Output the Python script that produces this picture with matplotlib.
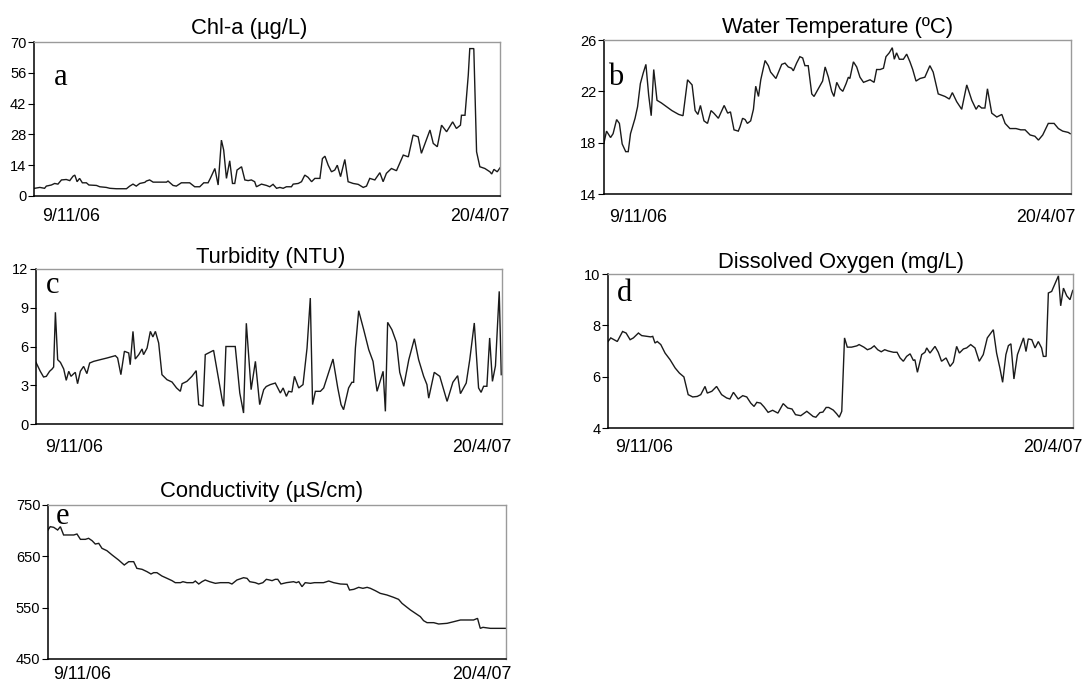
import matplotlib
matplotlib.use("Agg")
import matplotlib.pyplot as plt
from matplotlib import font_manager

# ---------------------------------------------------------------- data
# sampling day (days since start of record) and measured value

chla_day = [0.3, 2.3, 4.2, 4.9, 6.9, 8.2, 9.5, 10.9, 12.8, 14.2, 15.5, 16.2, 17.1, 18.1,
            19.2, 20.8, 21.8, 24.8, 26.1, 28.7, 30.1, 32.7, 36.7, 38.0, 39.3, 40.6, 42.0,
            44.0, 44.6, 45.9, 47.3, 48.6, 52.6, 53.2, 55.2, 56.5, 58.5, 61.8, 63.8, 65.8,
            67.4, 69.1, 70.0, 71.8, 73.1, 74.4, 75.3, 76.4, 77.7, 78.8, 79.7, 80.6, 82.4,
            83.7, 85.0, 86.3, 87.6, 88.3, 90.3, 92.3, 93.6, 94.9, 96.3, 97.6, 98.9, 100.2,
            102.2, 102.9, 104.9, 106.2, 107.5, 108.8, 110.2, 111.5, 113.5, 114.5, 115.5,
            116.8, 118.1, 119.4, 120.4, 121.7, 123.4, 124.7, 126.7, 128.7, 130.7, 132.0,
            133.3, 135.3, 137.3, 138.6, 139.9, 141.9, 143.9, 146.6, 148.6, 150.5, 152.5,
            153.8, 157.2, 158.5, 160.1, 161.8, 163.8, 166.2, 167.7, 169.3, 169.7, 171.1,
            172.4, 173.0, 174.6, 175.7, 177.0, 179.0, 181.0, 181.7, 182.6, 183.9, 185.0]
chla = [3.5, 3.9, 3.5, 4.5, 5.0, 5.7, 5.4, 7.3, 7.5, 7.0, 9.0, 9.5, 6.5, 8.0,
        6.0, 6.0, 5.0, 4.8, 4.2, 3.9, 3.5, 3.3, 3.3, 4.5, 5.4, 4.5, 5.7,
        6.2, 6.8, 7.3, 6.3, 6.3, 6.3, 6.8, 4.8, 4.5, 6.0, 6.0, 4.2, 4.2,
        6.0, 6.0, 8.0, 12.5, 5.0, 25.4, 20.9, 8.0, 16.0, 5.7, 5.7, 11.8, 13.3,
        7.3, 7.0, 7.3, 6.5, 4.2, 5.4, 4.8, 4.2, 5.3, 3.5, 3.9, 3.5, 4.2,
        4.2, 5.4, 5.7, 6.5, 9.5, 8.5, 6.5, 8.0, 8.0, 17.0, 18.1,
        14.0, 11.0, 11.8, 14.0, 8.8, 16.6, 6.5, 5.7, 5.3, 3.9, 4.5,
        8.0, 7.3, 10.6, 6.5, 10.3, 12.5, 11.5, 18.6, 17.8, 27.7, 26.9,
        19.4, 30.0, 23.9, 22.4, 32.2, 29.2, 33.7, 30.7, 32.2, 36.7, 36.7,
        54.9, 67.0, 67.0, 20.1, 13.3, 12.5, 11.0, 10.0, 12.1, 11.0, 12.8]

temp_day = [0.0, 1.0, 2.6, 3.6, 5.0, 6.1, 7.2, 8.6, 9.6, 10.5, 12.3, 13.3, 14.4, 15.5,
            16.6, 17.7, 18.7, 19.7, 21.0, 22.7, 24.8, 26.9, 29.6, 31.3, 33.1, 34.9, 36.1,
            37.2, 38.2, 39.6, 41.0, 42.4, 43.5, 45.3, 47.6, 49.0, 50.1, 51.5, 53.2,
            53.9, 54.9, 55.9, 56.8, 58.1, 59.2, 60.1, 61.2, 62.1, 63.8, 65.1, 66.0, 68.1,
            70.4, 71.7, 73.0, 74.3, 75.0, 76.3, 77.6, 78.7, 79.6, 80.9, 82.3, 83.2, 84.9,
            86.6, 87.6, 88.9, 90.2, 91.1, 92.2, 93.5, 94.6, 95.9, 96.8, 97.4, 98.8, 100.1,
            101.4, 102.8, 104.1, 105.4, 107.0, 108.0, 109.4, 110.7, 111.7, 113.0, 114.2,
            115.0, 115.9, 117.0, 118.6, 119.9, 121.2, 122.3, 123.6, 125.2, 127.1, 129.1,
            130.4, 132.4,
            133.8, 135.1, 136.8, 138.0, 139.7, 141.7, 143.7, 145.7, 147.4, 148.4, 149.6,
            150.9, 151.9, 153.6, 155.6, 157.6, 158.9, 160.8, 163.2, 165.1, 166.8, 168.8,
            170.7, 172.1, 173.8, 176.0, 178.3, 180.0, 181.7, 183.9, 184.7]
temp = [18.0, 18.9, 18.4, 18.7, 19.8, 19.5, 17.9, 17.3, 17.3, 18.7, 19.9, 20.8, 22.6, 23.4,
        24.1, 21.7, 20.1, 23.7, 21.3, 21.1, 20.8, 20.5, 20.2, 20.1, 22.9, 22.5, 20.5,
        20.2, 20.9, 19.7, 19.5, 20.5, 20.3, 19.9, 20.9, 20.3, 20.4, 19.0, 18.9,
        19.25, 19.9, 19.8, 19.5, 19.7, 20.6, 22.4, 21.6, 22.9, 24.4, 24.0, 23.5, 23.0,
        24.1, 24.2, 23.9, 23.8, 23.6, 24.2, 24.7, 24.6, 24.0, 24.0, 21.8, 21.6, 22.2,
        22.8, 23.9, 23.1, 22.0, 21.6, 22.7, 22.2, 22.0, 22.6, 23.1, 23.0, 24.3, 23.9,
        23.1, 22.7, 22.8, 22.9, 22.7, 23.7, 23.7, 23.8, 24.7, 25.0, 25.4,
        24.5, 25.0, 24.5, 24.5, 24.9, 24.3, 23.7, 22.8, 23.0, 23.1, 24.0,
        23.5, 21.8,
        21.7, 21.6, 21.4, 21.9, 21.2, 20.6, 22.5, 21.3, 20.6, 20.9, 20.7,
        20.7, 22.2, 20.3, 20.0, 20.2, 19.5, 19.1, 19.1, 19.0, 19.0, 18.6,
        18.5, 18.2, 18.6, 19.5, 19.5, 19.1, 18.9, 18.8, 18.7]

turb_day = [0.0, 1.7, 3.0, 4.1, 5.4, 6.4, 7.0, 7.7, 8.6, 9.7, 11.0, 12.0, 13.0, 13.9, 15.0,
            15.6, 16.5, 17.6, 18.9, 20.2, 21.3, 22.9, 25.5, 28.2, 31.5, 32.4, 33.7, 35.1,
            36.8, 37.4, 38.5, 39.4, 40.8, 42.1, 42.7, 44.1, 45.4, 46.4, 47.4, 48.7, 50.0,
            52.0, 54.0, 55.8, 57.3, 58.0, 59.9, 61.9, 63.6, 64.6, 66.3, 67.2, 70.5, 73.8,
            74.5, 75.4, 79.1, 80.9, 82.4, 83.5, 85.4, 87.1, 88.8, 90.4, 91.4, 93.0, 95.0,
            97.0, 98.1, 99.4, 100.3, 101.6, 102.6, 104.3, 106.0, 107.6, 108.9, 109.8, 110.9,
            112.9, 114.2, 117.9, 119.8, 121.1, 122.1, 124.1, 125.4, 126.1, 126.8, 128.1,
            130.1, 132.1, 133.8, 135.4, 137.8, 138.7, 139.6, 141.3, 143.1, 144.4, 146.0,
            148.0, 150.2, 151.9, 153.9, 155.2, 155.9, 158.1, 160.3, 163.2, 165.5, 167.4,
            168.5, 170.8, 172.2, 174.0, 175.7, 176.7, 177.7, 179.0, 180.1, 181.2, 182.4,
            183.9, 184.7]
turb = [4.77, 4.08, 3.64, 3.69, 4.08, 4.26, 4.41, 8.65, 4.98, 4.77, 4.26, 3.38, 4.08, 3.69,
        3.90, 4.00, 3.12, 4.08, 4.46, 3.90, 4.72, 4.85, 4.98, 5.11, 5.29, 5.11, 3.82, 5.63,
        5.50, 4.59, 7.17, 5.03, 5.37, 5.81, 5.37, 5.88, 7.17, 6.74, 7.17, 6.27, 3.82,
        3.43, 3.25, 2.79, 2.53, 3.12, 3.30, 3.69, 4.13, 1.50, 1.37, 5.37, 5.70, 2.00,
        1.37, 6.00, 6.00, 2.40, 0.85, 7.80, 2.66, 4.85, 1.50, 2.66, 2.90, 3.05, 3.17,
        2.40, 2.79, 2.14, 2.53, 2.48, 3.69, 2.79, 3.05, 5.88, 9.75, 1.50, 2.53,
        2.53, 2.79, 5.03, 2.79, 1.50, 1.11, 2.79, 3.23, 3.23, 5.88, 8.77,
        7.30, 5.75, 4.85, 2.53, 4.08, 0.98, 7.87, 7.30, 6.32, 4.00, 2.92,
        4.98, 6.60, 4.98, 3.69, 3.05, 2.00, 4.00, 3.69, 1.75, 3.23, 3.74,
        2.35, 3.17, 4.98, 7.82, 2.79, 2.45, 2.92, 2.92, 6.66, 3.30, 4.50,
        10.27, 3.82]

do_day = [0.0, 1.1, 2.4, 3.7, 5.8, 7.2, 8.8, 10.1, 12.1, 13.4, 15.4, 17.0, 17.8, 18.7, 19.6,
          21.0, 22.7, 24.7, 26.7, 28.4, 30.2, 31.9, 33.7, 35.5, 36.9, 38.6, 39.5, 41.3,
          43.2, 45.2, 47.2, 48.5, 49.9, 51.8, 53.6, 55.2, 56.8, 58.1, 59.2, 60.7, 62.1,
          63.7, 65.5, 67.6, 69.7, 71.5, 73.2, 74.6, 76.7, 79.1, 80.2, 81.6, 82.7, 84.3,
          85.5, 86.8, 87.8, 89.6, 91.0, 92.0, 93.0, 94.1, 95.2, 96.9, 99.0, 99.9, 101.8,
          103.2, 104.6, 105.9, 107.3, 108.7, 110.1, 111.5, 113.6, 115.0,
          116.2, 117.5, 118.8, 120.2, 121.5, 122.1, 123.1, 124.8, 126.1, 126.8, 128.1,
          130.1, 131.4, 132.7, 134.5, 136.1, 137.4, 138.7, 139.8, 141.4, 142.7, 144.3,
          146.0, 147.7, 149.3, 150.9, 153.3, 154.6, 155.9, 157.0, 158.3, 159.3, 160.3,
          161.5, 162.9, 164.2, 165.3, 166.3, 167.2, 168.6, 169.9, 171.2, 172.5, 173.2,
          174.3, 175.2, 176.5, 179.2, 180.1, 181.2, 182.5, 183.8, 184.9]
do_mgl = [7.37, 7.51, 7.44, 7.37, 7.76, 7.70, 7.44, 7.51, 7.70, 7.60, 7.57, 7.55, 7.57, 7.31, 7.37,
          7.25, 6.92, 6.66, 6.34, 6.14, 5.99, 5.30, 5.21, 5.23, 5.30, 5.62, 5.36, 5.43,
          5.62, 5.30, 5.17, 5.13, 5.39, 5.13, 5.26, 5.21, 4.97, 4.84, 5.00, 4.97, 4.82,
          4.61, 4.69, 4.58, 4.95, 4.78, 4.74, 4.52, 4.48, 4.65, 4.56, 4.45, 4.42, 4.60,
          4.62, 4.80, 4.80, 4.70, 4.55, 4.42, 4.65, 7.51, 7.15, 7.15, 7.20, 7.25, 7.15,
          7.05, 7.10, 7.20, 7.05, 6.97, 7.05, 7.00, 6.95, 6.95,
          6.73, 6.60, 6.79, 6.89, 6.63, 6.66, 6.17, 6.86, 6.95, 7.12, 6.92,
          7.18, 6.95, 6.60, 6.73, 6.40, 6.56, 7.18, 6.92, 7.08, 7.12, 7.25,
          7.12, 6.60, 6.86, 7.51, 7.83, 6.92, 6.34, 5.78, 6.86, 7.21, 7.28,
          5.91, 6.86, 7.21, 7.51, 6.98, 7.47, 7.44, 7.12, 7.37, 7.12, 6.79,
          6.79, 9.26, 9.32, 9.93, 8.76, 9.45, 9.15, 9.00, 9.36]

cond_day = [0.0, 0.9, 2.3, 3.9, 5.0, 6.3, 8.3, 10.4, 11.7, 13.1, 15.1, 16.4, 17.8, 19.1, 20.5,
            21.8, 23.8, 25.9, 28.5, 30.8, 32.6, 34.6, 35.9, 38.0, 40.0, 41.6, 42.7, 44.0,
            46.0, 48.1, 50.1, 51.4, 53.5, 54.5, 56.1, 58.6, 59.5, 60.9, 62.2, 63.5, 65.3,
            67.6, 69.6, 73.0, 74.3, 76.3, 79.0, 80.4, 81.5, 83.7, 85.1, 86.8, 88.2, 89.5,
            90.5, 91.8, 92.8, 94.1, 96.3, 99.2, 100.3, 101.3, 102.6, 103.9, 106.0, 107.6,
            109.3, 111.3, 113.4, 115.4, 118.1, 120.8, 121.8, 123.5, 125.5, 127.2, 128.9,
            130.2, 132.2, 134.2, 136.9, 139.6, 141.6, 143.0, 144.7, 146.4, 148.4, 150.4,
            151.7, 153.1, 155.8, 157.8, 161.2, 163.9, 166.6, 169.2, 171.9, 173.5, 174.6,
            175.7, 178.7, 185.0]
cond = [701.3, 707.8, 706.5, 701.3, 707.8, 691.6, 691.6, 691.6, 693.5, 683.1, 683.1, 685.1,
        680.5, 674.0, 675.3, 665.6, 661.0, 652.6, 642.9, 633.1, 639.6, 639.6, 626.6, 624.7,
        620.1, 615.6, 618.2, 618.2, 611.7, 607.1, 602.6, 598.7, 598.7, 600.6, 598.7, 598.7,
        601.9, 596.1, 600.6, 603.9, 600.6, 597.4, 598.7, 598.7, 596.1, 603.9, 608.4, 607.1,
        600.6, 598.7, 596.1, 598.7, 605.2, 603.9, 602.6, 605.2, 605.2, 596.1, 598.7, 600.6,
        598.7, 600.6, 590.9, 598.7, 597.4, 598.7, 598.7, 598.7, 601.9, 598.7, 596.1, 595.5,
        584.4, 585.7, 589.6, 587.7, 589.6, 587.7, 583.1, 577.9, 574.7, 570.1, 566.2, 558.4,
        551.9, 545.5, 539.0, 532.5, 524.7, 520.8, 520.8, 518.2, 519.5, 522.7, 526.0, 526.0,
        526.0, 529.2, 509.7, 511.7, 509.7, 509.7]

date_labels = ["9/11/06", "20/4/07"]
record_span = (0, 185)

# ---------------------------------------------------------------- fonts
names = {f.name for f in font_manager.fontManager.ttflist}
if "Liberation Sans Narrow" in names:
    NARROW, nscale = "Liberation Sans Narrow", 1.0
else:
    NARROW, nscale = "Liberation Sans", 0.88
SANS = "Liberation Sans"
SERIF = "Liberation Serif"

# ---------------------------------------------------------------- figure
W, H = 1086, 684
fig = plt.figure(figsize=(W / 100, H / 100), dpi=100)
fig.patch.set_facecolor("white")


def px_axes(x0, y0, x1, y1):
    return fig.add_axes([x0 / W, 1 - y1 / H, (x1 - x0) / W, (y1 - y0) / H])


panels = [
    dict(box=(34, 42, 500, 196), x=chla_day, y=chla, title="Chl-a (\u00b5g/L)",
         ylim=(0, 70), ticks=[0, 14, 28, 42, 56, 70], letter="a",
         lpos=(0.043, 0.72), tx=0.462, tdy=8, dates=(0.080, 0.957), ddy=25),
    dict(box=(604, 40, 1071, 194), x=temp_day, y=temp, title="Water Temperature (\u00baC)",
         ylim=(14, 26), ticks=[14, 18, 22, 26], letter="b",
         lpos=(0.008, 0.71), tx=0.50, tdy=7, dates=(0.073, 0.946), ddy=28),
    dict(box=(36, 269, 502, 424), x=turb_day, y=turb, title="Turbidity (NTU)",
         ylim=(0, 12), ticks=[0, 3, 6, 9, 12], letter="c",
         lpos=(0.021, 0.847), tx=0.504, tdy=6, dates=(0.082, 0.957), ddy=28),
    dict(box=(608, 274, 1073, 428), x=do_day, y=do_mgl, title="Dissolved Oxygen (mg/L)",
         ylim=(4, 10), ticks=[4, 6, 8, 10], letter="d",
         lpos=(0.019, 0.825), tx=0.50, tdy=6, dates=(0.077, 0.957), ddy=24),
    dict(box=(48, 505, 506, 659), x=cond_day, y=cond, title="Conductivity (\u00b5S/cm)",
         ylim=(450, 750), ticks=[450, 550, 650, 750], letter="e",
         lpos=(0.017, 0.877), tx=0.467, tdy=8, dates=(0.074, 0.947), ddy=20),
]

for p in panels:
    ax = px_axes(*p["box"])
    ax.plot(p["x"], p["y"], color="#1a1a1a", lw=1.0, solid_joinstyle="miter")
    ax.set_xlim(*record_span)
    ax.set_ylim(*p["ylim"])
    ax.set_yticks(p["ticks"])
    ax.set_yticklabels([str(t) for t in p["ticks"]], fontfamily=SANS, fontsize=10.5)
    ax.tick_params(axis="y", direction="out", length=4, width=0.8, pad=1.5, colors="black")
    ax.set_xticks([])
    for side in ("top", "right"):
        ax.spines[side].set_color("#9a9a9a")
        ax.spines[side].set_linewidth(1.0)
    for side in ("left", "bottom"):
        ax.spines[side].set_color("black")
        ax.spines[side].set_linewidth(1.1)

    ax.annotate(p["title"], xy=(p["tx"], 1), xycoords="axes fraction",
                xytext=(0, p["tdy"]), textcoords="offset pixels",
                ha="center", va="baseline", fontfamily=NARROW, fontsize=18 * nscale)
    ax.text(p["lpos"][0], p["lpos"][1], p["letter"], transform=ax.transAxes,
            ha="left", va="baseline", fontfamily=SERIF, fontsize=22)
    for fx, lab in zip(p["dates"], date_labels):
        ax.annotate(lab, xy=(fx, 0), xycoords="axes fraction",
                    xytext=(0, -p["ddy"]), textcoords="offset pixels",
                    ha="center", va="baseline", fontfamily=NARROW, fontsize=14.5 * nscale)

fig.savefig("out.png", dpi=100, facecolor="white")
